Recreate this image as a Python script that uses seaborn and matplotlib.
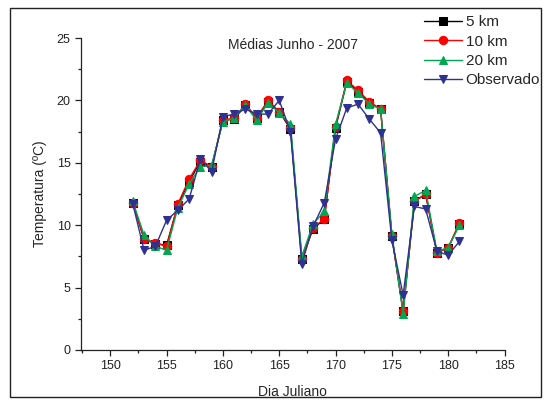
import matplotlib
matplotlib.use("Agg")
import matplotlib.pyplot as plt
import seaborn as sns
import pandas as pd
from matplotlib.patches import Rectangle
from matplotlib.ticker import MultipleLocator

days = list(range(152, 182))
km5 = [11.8, 8.9, 8.5, 8.4, 11.6, 13.5, 15.1, 14.7, 18.4, 18.5, 19.6, 18.6, 19.9, 19.1, 17.7,
       7.3, 9.7, 10.5, 17.8, 21.5, 20.7, 19.8, 19.3, 9.1, 3.1, 11.9, 12.5, 7.8, 8.2, 10.1]
km10 = [11.8, 8.9, 8.6, 8.3, 11.7, 13.7, 15.2, 14.7, 18.4, 18.6, 19.7, 18.6, 20.0, 19.1, 17.8,
        7.3, 9.8, 10.5, 17.9, 21.6, 20.8, 19.9, 19.3, 9.1, 3.1, 11.9, 12.5, 7.8, 8.2, 10.2]
km20 = [11.9, 9.2, 8.3, 8.0, 11.4, 13.3, 14.7, 14.8, 18.3, 18.6, 19.6, 18.4, 19.8, 19.0, 18.1,
        7.5, 10.1, 11.1, 18.1, 21.4, 20.6, 19.7, 19.3, 9.3, 2.9, 12.3, 12.8, 7.9, 8.2, 10.0]
obs = [11.7, 8.0, 8.3, 10.4, 11.2, 12.1, 15.3, 14.3, 18.7, 18.9, 19.3, 18.9, 18.9, 20.0, 17.5,
       6.9, 9.9, 11.8, 16.9, 19.4, 19.7, 18.5, 17.4, 8.8, 4.4, 11.5, 11.3, 7.9, 7.6, 8.7]

series_names = ["5 km", "10 km", "20 km", "Observado"]
series_vals = [km5, km10, km20, obs]
colors = ["#000000", "#ff0000", "#00a651", "#2e3192"]
markers = ["s", "o", "^", "v"]

sns.set_style("ticks")
plt.rcParams["font.family"] = ["Liberation Sans", "DejaVu Sans"]

fig = plt.figure(figsize=(5.46, 4.01), dpi=100)
ax = fig.add_axes([81 / 546, 51 / 401, (504.5 - 81) / 546, (350 - 38) / 401])

for name, vals, c, m in zip(series_names, series_vals, colors, markers):
    df = pd.DataFrame({"Dia": days, "T": vals})
    sns.lineplot(data=df, x="Dia", y="T", ax=ax, color=c, marker=m, markersize=6,
                 markeredgecolor=c, linewidth=1.0, label=name)

ax.set_xlim(147.4, 185)
ax.set_ylim(0, 25)
ax.xaxis.set_major_locator(MultipleLocator(5))
ax.xaxis.set_minor_locator(MultipleLocator(2.5))
ax.yaxis.set_major_locator(MultipleLocator(5))
ax.yaxis.set_minor_locator(MultipleLocator(2.5))
ax.tick_params(which="major", length=4, width=0.9, labelsize=9, color="#222222", labelcolor="#222222")
ax.tick_params(which="minor", length=2.5, width=0.9, color="#222222")
for s in ["top", "right"]:
    ax.spines[s].set_visible(False)
for s in ["left", "bottom"]:
    ax.spines[s].set_linewidth(0.9)
    ax.spines[s].set_color("#222222")

ax.set_xlabel("Dia Juliano", fontsize=10, labelpad=9)
ax.set_ylabel("Temperatura (ºC)", fontsize=10, labelpad=7)
ax.text(0.5, 1.0, "Médias Junho - 2007", transform=ax.transAxes, ha="center", va="top", fontsize=10)

ax.get_legend().remove()
handles, labels = ax.get_legend_handles_labels()
fig.legend(handles, labels, loc="upper right", bbox_to_anchor=(1.0, 0.977), frameon=False,
           fontsize=11, handlelength=2.5, handletextpad=0.25, labelspacing=0.35, borderaxespad=0.0)

fig.patches.append(Rectangle((10 / 546, 4 / 401), 531 / 546, 389 / 401, transform=fig.transFigure,
                             fill=False, edgecolor="#222222", linewidth=1.0))

fig.savefig("out.png", dpi=100)
